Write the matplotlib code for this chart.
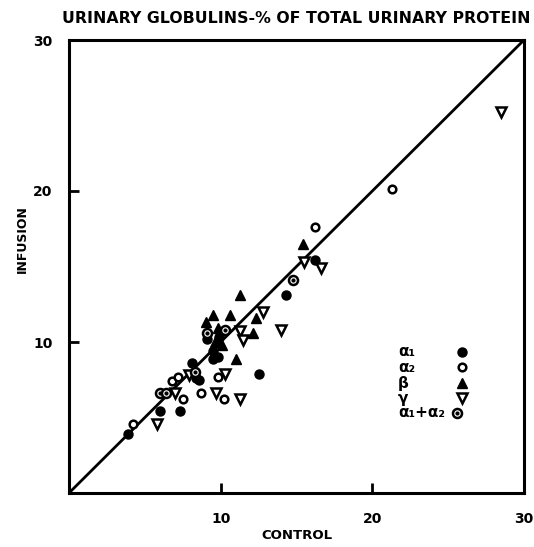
import matplotlib.pyplot as plt
import numpy as np

# urinary globulins, % of total urinary protein: control (x) vs infusion (y)
a1_x = [3.9, 6.0, 7.3, 8.1, 8.6, 8.4, 12.5, 9.5, 9.8, 9.5, 9.9, 9.1, 14.3, 16.2]
a1_y = [3.9, 5.4, 5.4, 8.6, 7.5, 7.6, 7.9, 9.4, 9.0, 8.9, 10.3, 10.2, 13.1, 15.4]

a2_x = [4.2, 6.8, 7.2, 7.5, 8.7, 10.2, 9.8, 16.2, 21.3]
a2_y = [4.6, 7.4, 7.7, 6.2, 6.6, 6.2, 7.7, 17.6, 20.1]

b_x = [11.0, 9.5, 10.6, 12.1, 12.3, 11.3, 15.4, 9.0, 9.8, 10.1, 9.6]
b_y = [8.9, 11.8, 11.8, 10.6, 11.6, 13.1, 16.5, 11.3, 10.9, 9.8, 10.0]

g_x = [5.8, 7.0, 7.9, 9.7, 11.3, 10.3, 11.3, 11.5, 12.8, 14.0, 15.5, 16.6, 28.5]
g_y = [4.6, 6.6, 7.8, 6.6, 6.2, 7.9, 10.7, 10.1, 12.0, 10.8, 15.3, 14.9, 25.2]

a12_x = [6.0, 6.4, 8.3, 10.3, 9.1, 14.8]
a12_y = [6.6, 6.6, 8.0, 10.8, 10.6, 14.1]

ticks = [10, 20, 30]

fig = plt.figure(figsize=(5.34, 5.47), dpi=100)
ax = fig.add_axes([69 / 534, 54 / 547, 455 / 534, 453 / 547])

# line of identity
ax.plot([0, 30], [0, 30], color='black', lw=2, zorder=1)

ax.plot(a1_x, a1_y, 'o', ms=6.5, color='black', zorder=3)
ax.plot(a2_x, a2_y, 'o', ms=5.5, mfc='white', mec='black', mew=1.8, zorder=3)
ax.plot(b_x, b_y, '^', ms=7.5, color='black', zorder=3)
ax.plot(g_x, g_y, 'v', ms=7.5, mfc='white', mec='black', mew=1.8, zorder=3)
ax.plot(a12_x, a12_y, 'o', ms=6.5, mfc='white', mec='black', mew=1.8, zorder=3)
ax.plot(a12_x, a12_y, 'o', ms=2, color='black', zorder=4)

# hand-lettered key
leg_lab = ['α₁', 'α₂', 'β', 'γ']
leg_y = [9.34, 8.34, 7.28, 6.29]
for lab, yy in zip(leg_lab, leg_y):
    ax.text(21.7, yy, lab, fontsize=11, fontweight='bold', va='center', ha='left')
ax.text(21.7, 5.30, 'α₁+α₂', fontsize=11, fontweight='bold', va='center', ha='left')
ax.plot([25.9], [leg_y[0]], 'o', ms=6.5, color='black')
ax.plot([25.9], [leg_y[1]], 'o', ms=5.5, mfc='white', mec='black', mew=1.8)
ax.plot([25.9], [leg_y[2]], '^', ms=7.5, color='black')
ax.plot([25.9], [leg_y[3]], 'v', ms=7.5, mfc='white', mec='black', mew=1.8)
ax.plot([25.6], [5.30], 'o', ms=6.5, mfc='white', mec='black', mew=1.8)
ax.plot([25.6], [5.30], 'o', ms=2, color='black')

ax.set_xlim(0, 30)
ax.set_ylim(0, 30)
ax.set_xticks(ticks)
ax.set_yticks(ticks)
ax.set_xticklabels([str(t) for t in ticks], fontsize=10, fontweight='bold')
ax.set_yticklabels([str(t) for t in ticks], fontsize=10, fontweight='bold')
ax.tick_params(direction='in', length=7, width=2, pad=12)
ax.tick_params(axis='x', pad=14)
for s in ax.spines.values():
    s.set_linewidth(2.2)

ax.set_title('URINARY GLOBULINS-% OF TOTAL URINARY PROTEIN', fontsize=11.3,
             fontweight='bold', pad=12)
ax.set_xlabel('CONTROL', fontsize=9.5, fontweight='bold', labelpad=2)
fig.text(22 / 534, 1 - 239 / 547, 'INFUSION', rotation=90, fontsize=9,
         fontweight='bold', ha='center', va='center')

plt.savefig('out.png', dpi=100)
